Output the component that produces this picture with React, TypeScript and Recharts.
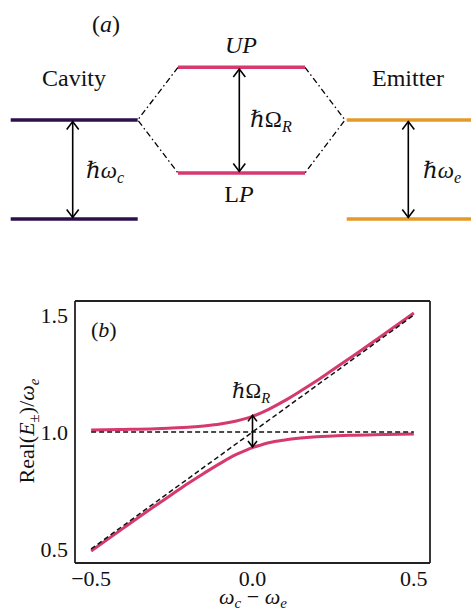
import React from 'react'
import { LineChart, Line, XAxis, YAxis, Customized } from 'recharts'

// panel (a): level diagram, x in arbitrary columns, y in energy (ground = 0)
const cavityUpper = [{ x: 0.107, e: 1 }, { x: 1.377, e: 1 }]
const cavityLower = [{ x: 0.107, e: 0 }, { x: 1.377, e: 0 }]
const upLevel = [{ x: 1.78, e: 1.532 }, { x: 3.05, e: 1.532 }]
const lpLevel = [{ x: 1.78, e: 0.465 }, { x: 3.05, e: 0.465 }]
const emitterUpper = [{ x: 3.467, e: 1 }, { x: 4.71, e: 1 }]
const emitterLower = [{ x: 3.467, e: 0 }, { x: 4.71, e: 0 }]
const linkLeft = [{ x: 1.78, e: 1.532 }, { x: 1.377, e: 1 }, { x: 1.78, e: 0.465 }]
const linkRight = [{ x: 3.05, e: 1.532 }, { x: 3.45, e: 1 }, { x: 3.05, e: 0.465 }]
const arrowCavity = [{ x: 0.727, e: 0.015 }, { x: 0.727, e: 0.985 }]
const arrowRabi = [{ x: 2.393, e: 0.48 }, { x: 2.393, e: 1.515 }]
const arrowEmitter = [{ x: 4.083, e: 0.015 }, { x: 4.083, e: 0.985 }]

// panel (b): polariton branches vs detuning
const detuning = [-0.5, -0.4, -0.3, -0.25, -0.2, -0.15, -0.1, -0.05, -0.025, 0, 0.025, 0.05, 0.1, 0.15, 0.2, 0.25, 0.3, 0.4, 0.5]
const upper = [1.009, 1.011, 1.014, 1.017, 1.02, 1.026, 1.034, 1.047, 1.056, 1.067, 1.081, 1.097, 1.134, 1.176, 1.22, 1.267, 1.314, 1.411, 1.509]
const lower = [0.491, 0.589, 0.686, 0.733, 0.78, 0.824, 0.866, 0.904, 0.919, 0.933, 0.944, 0.954, 0.966, 0.974, 0.98, 0.983, 0.986, 0.989, 0.991]
const emitterLine = [{ d: -0.5, v: 1 }, { d: 0.5, v: 1 }]
const cavityLine = [{ d: -0.5, v: 0.5 }, { d: 0.5, v: 1.5 }]
const rabiArrow = [{ d: 0, v: 0.936 }, { d: 0, v: 1.071 }]
const xTicks = [-0.5, 0, 0.5]
const yTicks = [0.5, 1.0, 1.5]

const branches = detuning.map((d, i) => ({ d, up: upper[i], lp: lower[i] }))

const PURPLE = '#2c0f4b'
const PINK = '#d5396f'
const ORANGE = '#e59a27'
const FONT = '"Liberation Serif", "DejaVu Serif", serif'

const arrowHead = (w: number, h: number) => (props: any) => {
  const { cx, cy, index } = props
  const s = index === 0 ? 1 : -1
  return (
    <path
      key={'ah' + index}
      d={`M${cx - w},${cy - h * s}L${cx},${cy}L${cx + w},${cy - h * s}`}
      fill="none"
      stroke="#000"
      strokeWidth={1.6}
    />
  )
}

const Sub = ({ children, shift = 5 }: { children: React.ReactNode; shift?: number }) => (
  <tspan dy={shift} fontSize="0.7em">{children}</tspan>
)

const DiagramText = () => (
  <g fontFamily={FONT} fontSize={24} fill="#111">
    <text x={106} y={32} textAnchor="middle">(<tspan fontStyle="italic">a</tspan>)</text>
    <text x={241} y={53} textAnchor="middle" fontStyle="italic">UP</text>
    <text x={74} y={86} textAnchor="middle">Cavity</text>
    <text x={408} y={86} textAnchor="middle">Emitter</text>
    <text x={250} y={127} fontSize={23}>
      <tspan fontStyle="italic">ℏ</tspan>Ω<Sub><tspan fontStyle="italic">R</tspan></Sub>
    </text>
    <text x={86} y={178} fontSize={23}>
      <tspan fontStyle="italic">ℏω</tspan><Sub><tspan fontStyle="italic">c</tspan></Sub>
    </text>
    <text x={239} y={202} textAnchor="middle">L<tspan fontStyle="italic">P</tspan></text>
    <text x={423} y={178} fontSize={23}>
      <tspan fontStyle="italic">ℏω</tspan><Sub><tspan fontStyle="italic">e</tspan></Sub>
    </text>
  </g>
)

const PlotText = () => (
  <g fontFamily={FONT} fontSize={22} fill="#111">
    <text x={91} y={97}>(<tspan fontStyle="italic">b</tspan>)</text>
    <text x={232} y={158} fontSize={21}>
      <tspan fontStyle="italic">ℏ</tspan>Ω<Sub><tspan fontStyle="italic">R</tspan></Sub>
    </text>
    <text transform="translate(34,191) rotate(-90)" textAnchor="middle">
      Real(<tspan fontStyle="italic">E</tspan>
      <tspan dy={5} fontSize={15}>±</tspan>
      <tspan dy={-5}>)/</tspan>
      <tspan fontStyle="italic">ω</tspan>
      <tspan dy={5} fontSize={15} fontStyle="italic">e</tspan>
    </text>
    <text x={253} y={364} textAnchor="middle">
      <tspan fontStyle="italic">ω</tspan>
      <tspan dy={4} fontSize={15} fontStyle="italic">c</tspan>
      <tspan dy={-4}> − </tspan>
      <tspan fontStyle="italic">ω</tspan>
      <tspan dy={4} fontSize={15} fontStyle="italic">e</tspan>
    </text>
  </g>
)

const fmtX = (v: number) => (v < 0 ? '−' + Math.abs(v).toFixed(1) : v.toFixed(1))
const fmtY = (v: number) => v.toFixed(1)
const frame = { stroke: '#222', strokeWidth: 1.8 }
const tickStyle = { fontFamily: FONT, fontSize: 22, fill: '#111' }

export default function App() {
  return (
    <div style={{ position: 'absolute', left: 0, top: 0, width: 471, height: 609, background: '#fff', overflow: 'hidden' }}>
      <div style={{ position: 'absolute', left: 0, top: 0 }}>
        <LineChart width={471} height={240} margin={{ top: 0, right: 0, bottom: 0, left: 0 }}>
          <XAxis dataKey="x" type="number" domain={[0, 4.71]} hide />
          <YAxis dataKey="e" type="number" domain={[-0.212, 2.212]} hide />
          {[linkLeft, linkRight].map((d, i) => (
            <Line key={'lk' + i} data={d} dataKey="e" type="linear" stroke="#000" strokeWidth={1.3} strokeDasharray="6 3 1.5 3" dot={false} activeDot={false} isAnimationActive={false} />
          ))}
          <Line data={cavityUpper} dataKey="e" stroke={PURPLE} strokeWidth={3.5} dot={false} activeDot={false} isAnimationActive={false} />
          <Line data={cavityLower} dataKey="e" stroke={PURPLE} strokeWidth={3.5} dot={false} activeDot={false} isAnimationActive={false} />
          <Line data={upLevel} dataKey="e" stroke={PINK} strokeWidth={3.5} dot={false} activeDot={false} isAnimationActive={false} />
          <Line data={lpLevel} dataKey="e" stroke={PINK} strokeWidth={3.5} dot={false} activeDot={false} isAnimationActive={false} />
          <Line data={emitterUpper} dataKey="e" stroke={ORANGE} strokeWidth={3.5} dot={false} activeDot={false} isAnimationActive={false} />
          <Line data={emitterLower} dataKey="e" stroke={ORANGE} strokeWidth={3.5} dot={false} activeDot={false} isAnimationActive={false} />
          {[arrowCavity, arrowRabi, arrowEmitter].map((d, i) => (
            <Line key={'ar' + i} data={d} dataKey="e" stroke="#000" strokeWidth={1.6} dot={arrowHead(6, 8)} activeDot={false} isAnimationActive={false} />
          ))}
          <Customized component={DiagramText} />
        </LineChart>
      </div>
      <div style={{ position: 'absolute', left: 0, top: 240 }}>
        <LineChart width={471} height={369} data={branches} margin={{ top: 61, right: 41, bottom: 0, left: 35 }}>
          <XAxis xAxisId="m" dataKey="d" type="number" domain={[-0.55, 0.55]} ticks={xTicks} tickFormatter={fmtX}
            height={46} tickLine={false} axisLine={false} tickSize={0} tickMargin={7} tick={tickStyle} />
          <XAxis xAxisId="bIn" dataKey="d" type="number" domain={[-0.55, 0.55]} ticks={xTicks} orientation="bottom" mirror
            tick={false} tickSize={4} axisLine={frame} tickLine={{ stroke: '#222' }} />
          <XAxis xAxisId="tIn" dataKey="d" type="number" domain={[-0.55, 0.55]} ticks={xTicks} orientation="top" mirror
            tick={false} tickSize={4} axisLine={frame} tickLine={{ stroke: '#222' }} />
          <YAxis yAxisId="m" type="number" domain={[0.44, 1.56]} ticks={yTicks} tickFormatter={fmtY}
            width={40} tickLine={false} axisLine={false} tickSize={0} tickMargin={7} tick={tickStyle} />
          <YAxis yAxisId="lIn" type="number" domain={[0.44, 1.56]} ticks={yTicks} orientation="left" mirror
            tick={false} tickSize={4} axisLine={frame} tickLine={{ stroke: '#222' }} />
          <YAxis yAxisId="rIn" type="number" domain={[0.44, 1.56]} ticks={yTicks} orientation="right" mirror
            tick={false} tickSize={4} axisLine={frame} tickLine={{ stroke: '#222' }} />
          <Line xAxisId="m" yAxisId="m" dataKey="up" type="monotone" stroke={PINK} strokeWidth={3} dot={false} activeDot={false} isAnimationActive={false} />
          <Line xAxisId="m" yAxisId="m" dataKey="lp" type="monotone" stroke={PINK} strokeWidth={3} dot={false} activeDot={false} isAnimationActive={false} />
          <Line xAxisId="m" yAxisId="m" data={emitterLine} dataKey="v" stroke="#111" strokeWidth={1.5} strokeDasharray="5 3" dot={false} activeDot={false} isAnimationActive={false} />
          <Line xAxisId="m" yAxisId="m" data={cavityLine} dataKey="v" stroke="#111" strokeWidth={1.5} strokeDasharray="5 3" dot={false} activeDot={false} isAnimationActive={false} />
          <Line xAxisId="m" yAxisId="m" data={rabiArrow} dataKey="v" stroke="#000" strokeWidth={1.6} dot={arrowHead(4.5, 6)} activeDot={false} isAnimationActive={false} />
          <Customized component={PlotText} />
        </LineChart>
      </div>
    </div>
  )
}
